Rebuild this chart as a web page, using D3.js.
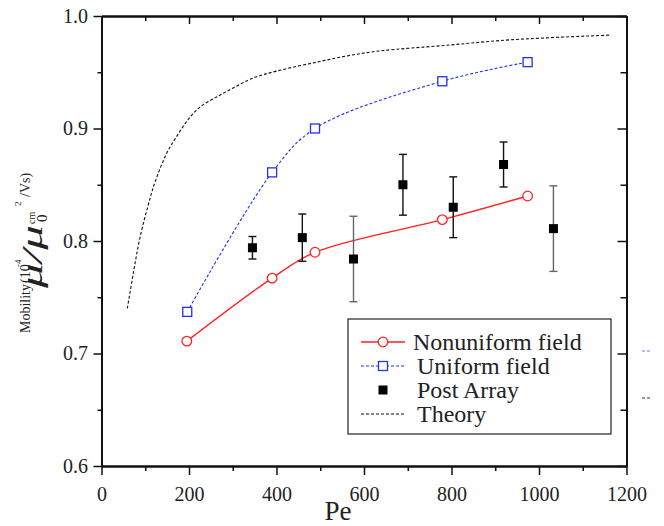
<!DOCTYPE html>
<meta charset="utf-8">
<body>
<script src="https://d3js.org/d3.v7.min.js"></script>
<script>
// data
var nonuniformPe = [195, 390, 488, 779, 974];
var nonuniformMu = [0.711, 0.767, 0.790, 0.819, 0.840];

var uniformPe = [196, 390, 488, 779, 974];
var uniformMu = [0.737, 0.861, 0.900, 0.942, 0.959];

var postPe  = [345, 459, 576, 689, 804, 919, 1033];
var postMu  = [0.794, 0.803, 0.784, 0.850, 0.830, 0.868, 0.811];
var postErr = [0.010, 0.021, 0.038, 0.027, 0.027, 0.020, 0.038];

var theoryPe = [59, 73, 88, 111, 122, 149, 172, 198, 225, 263, 301, 347, 400, 492, 568, 637, 789, 941, 1161];
var theoryMu = [0.740, 0.772, 0.803, 0.838, 0.852, 0.878, 0.893, 0.908, 0.919, 0.928, 0.936, 0.945, 0.951, 0.959, 0.965, 0.969, 0.974, 0.979, 0.983];

var xMajor = [0, 200, 400, 600, 800, 1000, 1200];
var xMinor = [100, 300, 500, 700, 900, 1100];
var yMajor = [0.6, 0.7, 0.8, 0.9, 1.0];
var yMinor = [0.65, 0.75, 0.85, 0.95];

var legendLabels = ["Nonuniform field", "Uniform field", "Post Array", "Theory"];

var FONT = "Liberation Serif";

d3.select("body").style("margin", "0px");

var svg = d3.select("body").append("svg")
    .attr("width", 664)
    .attr("height", 526)
    .style("display", "block");

var x = d3.scaleLinear().domain([0, 1200]).range([101.5, 626.5]);
var y = d3.scaleLinear().domain([0.6, 1.0]).range([466, 16]);

function zip(a, b) { return a.map(function(v, i) { return [v, b[i]]; }); }

function txt(sel, size) {
    return sel.attr("font-family", FONT).style("font-family", FONT)
        .attr("font-size", size).attr("fill", "#222");
}

// axes
function drawAxis(axis, tr, vals, size, fmt) {
    var g = svg.append("g").attr("transform", tr)
        .call(axis.tickValues(vals).tickSize(size).tickSizeOuter(0)
            .tickFormat(fmt || ""));
    g.attr("font-family", FONT);
    g.selectAll("line").attr("stroke", "#111").attr("stroke-width", 1.5);
    g.select(".domain").attr("stroke", "#111").attr("stroke-width", 2);
    txt(g.selectAll("text"), 20);
    return g;
}

drawAxis(d3.axisBottom(x).tickPadding(12), "translate(0,466)", xMajor, 9, d3.format("d"));
drawAxis(d3.axisBottom(x), "translate(0,466)", xMinor, 5);
drawAxis(d3.axisTop(x), "translate(0,16)", xMajor, -8);
drawAxis(d3.axisTop(x), "translate(0,16)", xMinor, -5);

drawAxis(d3.axisLeft(y).tickPadding(5.5), "translate(101.5,0)", yMajor, 8, d3.format(".1f"));
drawAxis(d3.axisLeft(y), "translate(101.5,0)", yMinor, 4);
drawAxis(d3.axisRight(y), "translate(626.5,0)", yMajor, -9);
drawAxis(d3.axisRight(y), "translate(626.5,0)", yMinor, -6);

// axis titles
txt(svg.append("text"), 27)
    .attr("x", 338).attr("y", 520)
    .attr("text-anchor", "middle")
    .text("Pe");

var yt = svg.append("g").attr("transform", "translate(30,333) rotate(-90)");
txt(yt.append("text"), 14).attr("x", 0).attr("y", 0).text("Mobility");
txt(yt.append("text"), 14).attr("x", 50).attr("y", 0).text("(10");
txt(yt.append("text"), 9).attr("x", 66).attr("y", -9).text("-4");
txt(yt.append("text"), 10).attr("x", 109).attr("y", 5).text("cm");
txt(yt.append("text"), 9).attr("x", 127).attr("y", -9).text("2");
txt(yt.append("text"), 14).attr("x", 136).attr("y", 0).text("/Vs)");
txt(yt.append("text"), 30).attr("x", 45).attr("y", 12).attr("font-style", "italic")
    .attr("textLength", 63).attr("lengthAdjust", "spacingAndGlyphs").text("\u03bc/\u03bc");
txt(yt.append("text"), 15).attr("x", 111).attr("y", 17).text("0");

// lines
var line = d3.line()
    .x(function(d) { return x(d[0]); })
    .y(function(d) { return y(d[1]); })
    .curve(d3.curveCatmullRom.alpha(0.5));

svg.append("path")
    .datum(zip(theoryPe, theoryMu))
    .attr("fill", "none").attr("stroke", "#111").attr("stroke-width", 1.1)
    .attr("stroke-dasharray", "3,2")
    .attr("d", line);

svg.append("path")
    .datum(zip(uniformPe, uniformMu))
    .attr("fill", "none").attr("stroke", "#2233ee").attr("stroke-width", 1.1)
    .attr("stroke-dasharray", "3,2")
    .attr("d", line);

svg.append("path")
    .datum(zip(nonuniformPe, nonuniformMu))
    .attr("fill", "none").attr("stroke", "#ff2020").attr("stroke-width", 1.3)
    .attr("d", line);

// markers
svg.selectAll(".unif").data(zip(uniformPe, uniformMu)).enter().append("rect")
    .attr("x", function(d) { return x(d[0]) - 4.5; })
    .attr("y", function(d) { return y(d[1]) - 4.5; })
    .attr("width", 9).attr("height", 9)
    .attr("fill", "#fff").attr("stroke", "#2233ee").attr("stroke-width", 1.3);

svg.selectAll(".nonu").data(zip(nonuniformPe, nonuniformMu)).enter().append("circle")
    .attr("cx", function(d) { return x(d[0]); })
    .attr("cy", function(d) { return y(d[1]); })
    .attr("r", 4.8)
    .attr("fill", "#fff").attr("stroke", "#ff2020").attr("stroke-width", 1.3);

// post array with error bars
var post = postPe.map(function(p, i) { return {pe: p, mu: postMu[i], err: postErr[i]}; });
var eb = svg.selectAll(".eb").data(post).enter().append("g")
    .attr("stroke", function(d) { return d.err > 0.03 ? "#666" : "#111"; })
    .attr("stroke-width", 1.4);
eb.append("line")
    .attr("x1", function(d) { return x(d.pe); }).attr("x2", function(d) { return x(d.pe); })
    .attr("y1", function(d) { return y(d.mu + d.err); }).attr("y2", function(d) { return y(d.mu - d.err); });
eb.append("line")
    .attr("x1", function(d) { return x(d.pe) - 4; }).attr("x2", function(d) { return x(d.pe) + 4; })
    .attr("y1", function(d) { return y(d.mu + d.err); }).attr("y2", function(d) { return y(d.mu + d.err); });
eb.append("line")
    .attr("x1", function(d) { return x(d.pe) - 4; }).attr("x2", function(d) { return x(d.pe) + 4; })
    .attr("y1", function(d) { return y(d.mu - d.err); }).attr("y2", function(d) { return y(d.mu - d.err); });
svg.selectAll(".post").data(post).enter().append("rect")
    .attr("x", function(d) { return x(d.pe) - 4.5; })
    .attr("y", function(d) { return y(d.mu) - 4.5; })
    .attr("width", 9).attr("height", 9)
    .attr("fill", "#000");

// legend
var lg = svg.append("g").attr("transform", "translate(348,319)");
lg.append("rect").attr("width", 263).attr("height", 115)
    .attr("fill", "#fff").attr("stroke", "#222").attr("stroke-width", 1.2);

var rowY = function(i) { return 23 + i * 24; };
lg.append("line").attr("x1", 13).attr("x2", 57).attr("y1", rowY(0)).attr("y2", rowY(0))
    .attr("stroke", "#ff2020").attr("stroke-width", 1.3);
lg.append("circle").attr("cx", 35).attr("cy", rowY(0)).attr("r", 4.8)
    .attr("fill", "#fff").attr("stroke", "#ff2020").attr("stroke-width", 1.3);
lg.append("line").attr("x1", 13).attr("x2", 57).attr("y1", rowY(1)).attr("y2", rowY(1))
    .attr("stroke", "#2233ee").attr("stroke-width", 1.1).attr("stroke-dasharray", "3,2");
lg.append("rect").attr("x", 30.5).attr("y", rowY(1) - 4.5).attr("width", 9).attr("height", 9)
    .attr("fill", "#fff").attr("stroke", "#2233ee").attr("stroke-width", 1.3);
lg.append("rect").attr("x", 30.5).attr("y", rowY(2) - 4.5).attr("width", 9).attr("height", 9)
    .attr("fill", "#000");
lg.append("line").attr("x1", 13).attr("x2", 57).attr("y1", rowY(3)).attr("y2", rowY(3))
    .attr("stroke", "#111").attr("stroke-width", 1.1).attr("stroke-dasharray", "3,2");

txt(lg.selectAll(".lt").data(legendLabels).enter().append("text"), 24)
    .attr("x", function(d, i) { return i === 0 ? 65 : 69; })
    .attr("y", function(d, i) { return rowY(i) + 8; })
    .text(function(d) { return d; });

// stray legend fragments at the right edge
svg.append("line").attr("x1", 642).attr("x2", 650).attr("y1", 351).attr("y2", 351)
    .attr("stroke", "#6677ff").attr("stroke-width", 1).attr("stroke-dasharray", "3,2");
svg.append("line").attr("x1", 642).attr("x2", 650).attr("y1", 398).attr("y2", 398)
    .attr("stroke", "#333").attr("stroke-width", 1).attr("stroke-dasharray", "3,2");
</script>
</body>
